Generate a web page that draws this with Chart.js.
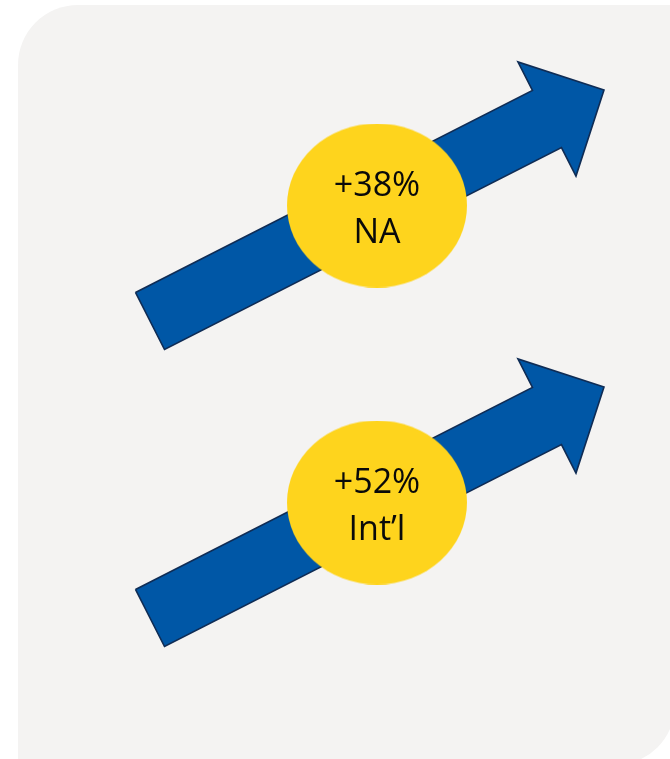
<!DOCTYPE html>
<html>
<head>
<meta charset="utf-8">
<script src="https://cdn.jsdelivr.net/npm/chart.js@4.4.1/dist/chart.umd.min.js"></script>
<style>
  html, body { margin: 0; padding: 0; background: #fff; }
  #wrap { width: 670px; height: 759px; }
  canvas { display: block; }
</style>
</head>
<body>
<div id="wrap"><canvas id="growthChart" width="670" height="759"></canvas></div>
<script>
// ================== DATA ==================
const regions = ["NA", "Int’l"];
const growth  = [38, 52];

// ================== LAYOUT & STYLE ==================
const W = 670, H = 759;
// card with rounded top-left / bottom-right corners only
const PANEL = { x: 18, y: 5, w: 657, h: 760, radii: [60, 0, 60, 0], fill: "#f4f3f2" };
// one arrow per row, the second row is the first one shifted down
const ARROW = { x0: 150, y0: 321, x1: 604, y1: 90, rowGap: 297, shaft: 32, head: 64, headLen: 64 };
const BADGE = { rx: 90, ry: 82 };
const BLUE = "#0057a6", NAVY = "#0f2c55", GOLD = "#fed41d", INK = "#0a0a0a";

const $ = (q) => document.querySelector(q);

// outline of an arrow as a closed polygon in data units
function arrowPoints(row) {
  const dy = row * ARROW.rowGap;
  const ax = ARROW.x0, ay = ARROW.y0 + dy;
  const bx = ARROW.x1, by = ARROW.y1 + dy;
  const len = Math.hypot(bx - ax, by - ay);
  const ux = (bx - ax) / len, uy = (by - ay) / len;
  const nx = -uy, ny = ux;
  const at = (t, s) => ({ x: ax + ux * t + nx * s, y: ay + uy * t + ny * s });
  const base = len - ARROW.headLen;
  const pts = [
    at(0, -ARROW.shaft), at(base, -ARROW.shaft), at(base, -ARROW.head),
    at(len, 0),
    at(base, ARROW.head), at(base, ARROW.shaft), at(0, ARROW.shaft)
  ];
  pts.push(pts[0]);
  return pts;
}

// badge sits halfway along its arrow
function badgeCenter(row) {
  const dy = row * ARROW.rowGap;
  return { x: (ARROW.x0 + ARROW.x1) / 2, y: (ARROW.y0 + ARROW.y1) / 2 + dy };
}

function badgeImage() {
  const c = document.createElement("canvas");
  c.width = BADGE.rx * 2;
  c.height = BADGE.ry * 2;
  const g = c.getContext("2d");
  g.fillStyle = GOLD;
  g.beginPath();
  g.ellipse(BADGE.rx, BADGE.ry, BADGE.rx, BADGE.ry, 0, 0, Math.PI * 2);
  g.fill();
  return c;
}

// ================== PLUGINS ==================
const panelBg = {
  id: "panelBg",
  beforeDraw(chart) {
    const { ctx, scales: { x, y } } = chart;
    const left = x.getPixelForValue(PANEL.x), top = y.getPixelForValue(PANEL.y);
    const right = x.getPixelForValue(PANEL.x + PANEL.w), bottom = y.getPixelForValue(PANEL.y + PANEL.h);
    ctx.save();
    ctx.fillStyle = PANEL.fill;
    ctx.beginPath();
    ctx.roundRect(left, top, right - left, bottom - top, PANEL.radii);
    ctx.fill();
    ctx.restore();
  }
};

const badgeLabels = {
  id: "badgeLabels",
  afterDatasetsDraw(chart) {
    const ctx = chart.ctx;
    const meta = chart.getDatasetMeta(0);
    ctx.save();
    ctx.fillStyle = INK;
    ctx.textAlign = "center";
    ctx.textBaseline = "alphabetic";
    ctx.font = "34px 'Open Sans'";
    meta.data.forEach((pt, i) => {
      ctx.fillText(`+${growth[i]}%`, pt.x, pt.y - 10);
      ctx.fillText(regions[i], pt.x, pt.y + 37);
    });
    ctx.restore();
  }
};

// ================== CHART ==================
const datasets = [
  {
    label: "growth",
    data: growth.map((_, i) => badgeCenter(i)),
    showLine: false,
    pointStyle: badgeImage(),
    pointRadius: 1,
    order: 0
  },
  ...regions.map((r, i) => ({
    label: r,
    data: arrowPoints(i),
    showLine: true,
    fill: "shape",
    tension: 0,
    backgroundColor: BLUE,
    borderColor: NAVY,
    borderWidth: 1.6,
    borderJoinStyle: "miter",
    pointRadius: 0,
    order: 1
  }))
];

new Chart($("#growthChart"), {
  type: "line",
  data: { datasets },
  options: {
    responsive: false,
    animation: false,
    events: [],
    layout: { padding: 0, autoPadding: false },
    plugins: { legend: { display: false }, tooltip: { enabled: false } },
    scales: {
      x: { type: "linear", min: 0, max: W, display: false },
      y: { type: "linear", min: 0, max: H, reverse: true, display: false }
    }
  },
  plugins: [panelBg, badgeLabels]
});
</script>
</body>
</html>
